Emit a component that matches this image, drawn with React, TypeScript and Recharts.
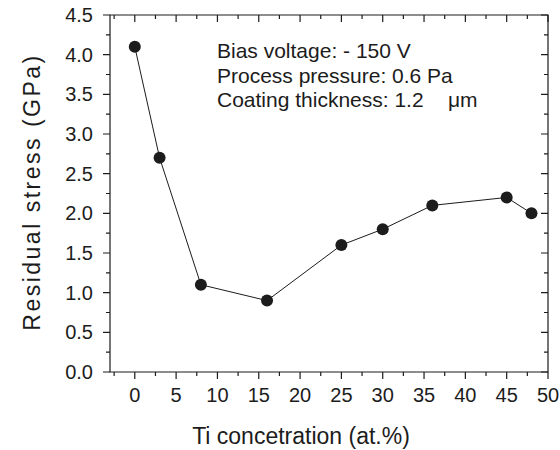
import React from 'react';
import { LineChart, Line, XAxis, YAxis, ReferenceArea } from 'recharts';

const tiContent = [0, 3, 8, 16, 25, 30, 36, 45, 48];
const residualStress = [4.1, 2.7, 1.1, 0.9, 1.6, 1.8, 2.1, 2.2, 2.0];

const xTicks = [-2.5, 0, 2.5, 5, 7.5, 10, 12.5, 15, 17.5, 20, 22.5, 25, 27.5, 30, 32.5, 35, 37.5, 40, 42.5, 45, 47.5, 50];
const yTicks = [0, 0.25, 0.5, 0.75, 1, 1.25, 1.5, 1.75, 2, 2.25, 2.5, 2.75, 3, 3.25, 3.5, 3.75, 4, 4.25, 4.5];

const notes = ['Bias voltage: - 150 V', 'Process pressure: 0.6 Pa', 'Coating thickness: 1.2'];

const data = tiContent.map((ti, i) => ({ ti, stress: residualStress[i] }));

const INK = '#1c1c1c';
const FONT = "Arial, 'Liberation Sans', Helvetica, sans-serif";

// plot box: 560x450 chart, margin top 15 / right 12, y axis 110 wide, x axis 78 high
const PLOT_W = 560 - 110 - 12;
const PLOT_H = 450 - 15 - 78;

const isMajorX = (v: number) => Math.round(v * 2) % 10 === 0;
const isMajorY = (v: number) => Math.round(v * 4) % 2 === 0;

// tickSize/tickMargin are 0, so x/y here sit right on the axis line.
// the inward ticks on the top/right edges of the box are drawn from here too
const BottomTick = ({ x, y, payload }: any) => {
    const major = isMajorX(payload.value);
    const len = major ? 7 : 4;
    const top = y - PLOT_H;
    return (
        <g>
            <path d={`M${x},${y}V${y + len}M${x},${top}V${top + len}`} stroke={INK} strokeWidth={1.2} fill="none" />
            {major && (
                <text x={x} y={y + 30} textAnchor="middle" fontSize={20} fill={INK} fontFamily={FONT}>
                    {payload.value}
                </text>
            )}
        </g>
    );
};

const LeftTick = ({ x, y, payload }: any) => {
    const major = isMajorY(payload.value);
    const len = major ? 7 : 4;
    const right = x + PLOT_W;
    return (
        <g>
            <path d={`M${x},${y}H${x - len}M${right},${y}H${right - len}`} stroke={INK} strokeWidth={1.2} fill="none" />
            {major && (
                <text x={x - 17} y={y + 7} textAnchor="end" fontSize={20} fill={INK} fontFamily={FONT}>
                    {payload.value.toFixed(1)}
                </text>
            )}
        </g>
    );
};

export default function App() {
    return (
        <div style={{ position: 'absolute', left: 0, top: 0, width: 560, height: 450, background: '#fff' }}>
            <LineChart width={560} height={450} data={data} margin={{ top: 15, right: 12, left: 0, bottom: 0 }}>
                <XAxis
                    dataKey="ti"
                    type="number"
                    domain={[-3, 50]}
                    allowDataOverflow
                    ticks={xTicks}
                    interval={0}
                    height={78}
                    tickSize={0}
                    tickMargin={0}
                    tickLine={false}
                    tick={<BottomTick />}
                    axisLine={false}
                />
                <YAxis
                    type="number"
                    domain={[0, 4.5]}
                    allowDataOverflow
                    ticks={yTicks}
                    interval={0}
                    width={110}
                    tickSize={0}
                    tickMargin={0}
                    tickLine={false}
                    tick={<LeftTick />}
                    axisLine={false}
                />
                {/* the box round the plot */}
                <ReferenceArea
                    x1={-3}
                    x2={50}
                    y1={0}
                    y2={4.5}
                    fill="none"
                    fillOpacity={0}
                    stroke={INK}
                    strokeWidth={1.2}
                    strokeOpacity={1}
                />
                <Line
                    dataKey="stress"
                    stroke={INK}
                    strokeWidth={1}
                    dot={{ r: 6, fill: INK, stroke: INK, strokeWidth: 0 }}
                    activeDot={false}
                    isAnimationActive={false}
                />
                <g fontFamily={FONT} fill={INK} fontSize={21}>
                    {notes.map((t, i) => (
                        <text key={t} x={217} y={58 + i * 24.5}>{t}</text>
                    ))}
                    <text x={448} y={107}>μm</text>
                </g>
                <text x={301} y={444} textAnchor="middle" fontSize={23} fill={INK} fontFamily={FONT}>
                    Ti concetration (at.%)
                </text>
                <text x={40} y={192} textAnchor="middle" fontSize={23} letterSpacing={2.5} fill={INK} fontFamily={FONT}
                    transform="rotate(-90, 40, 192)">
                    Residual stress (GPa)
                </text>
            </LineChart>
        </div>
    );
}
